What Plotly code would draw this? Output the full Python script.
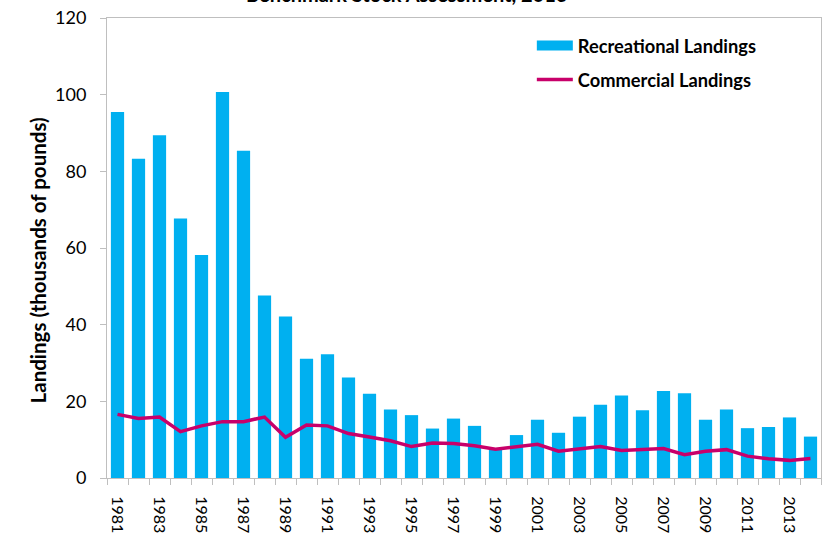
import plotly.graph_objects as go

years = list(range(1981, 2015))
recreational = [95.5, 83.3, 89.4, 67.7, 58.2, 100.7, 85.4, 47.6, 42.1, 31.1,
                32.3, 26.2, 22.0, 17.9, 16.4, 12.9, 15.5, 13.6, 7.5, 11.2,
                15.2, 11.8, 16.0, 19.1, 21.5, 17.7, 22.7, 22.1, 15.2, 17.9,
                13.0, 13.3, 15.8, 10.8]
commercial = [16.6, 15.5, 15.9, 12.1, 13.6, 14.7, 14.7, 15.9, 10.6, 13.8,
              13.6, 11.6, 10.7, 9.7, 8.2, 9.1, 9.0, 8.4, 7.5, 8.2,
              8.8, 7.0, 7.5, 8.2, 7.2, 7.4, 7.7, 6.1, 7.0, 7.4,
              5.7, 5.0, 4.6, 5.1]
tick_years = [y for y in years if y % 2 == 1]

BLUE = '#00B0F0'
MAGENTA = '#C8006A'
GRID = '#BFBFBF'
FONT = 'Lato, sans-serif'

fig = go.Figure()

# bars (legend drawn by a dummy thick line so the key is a wide rectangle)
fig.add_trace(go.Bar(
    x=years, y=recreational,
    marker=dict(color=BLUE, line=dict(width=0)),
    showlegend=False,
    name='Recreational Landings'
))
fig.add_trace(go.Scatter(
    x=[None], y=[None], mode='lines',
    line=dict(color=BLUE, width=13),
    name='<b>Recreational Landings</b>',
    legendgroup='rec'
))
fig.add_trace(go.Scatter(
    x=years, y=commercial, mode='lines',
    line=dict(color=MAGENTA, width=3.5),
    name='<b>Commercial Landings</b>',
    legendgroup='com'
))

fig.update_layout(
    width=828, height=539,
    margin=dict(l=107, r=6, t=15, b=58),
    plot_bgcolor='white', paper_bgcolor='white',
    bargap=0.37,
    font=dict(family=FONT, size=17, color='black'),
    legend=dict(
        x=0.595, y=0.98, xanchor='left', yanchor='top',
        font=dict(size=18.3), tracegroupgap=7,
        itemwidth=36, bgcolor='rgba(0,0,0,0)'
    ),
    xaxis=dict(
        range=[1980.5, 2014.5],
        tickmode='array', tickvals=tick_years,
        ticktext=[str(y) for y in tick_years],
        tickangle=90, ticks='outside', ticklen=0,
        ticklabelstandoff=14,
        showline=True, linecolor=GRID, linewidth=1, mirror=True,
        showgrid=False, zeroline=False,
        minor=dict(ticks='outside', ticklen=6, tickcolor=GRID,
                   tick0=1980.5, dtick=1, showgrid=False),
        tickfont=dict(size=16)
    ),
    yaxis=dict(
        range=[0, 120], dtick=20,
        ticks='outside', ticklen=6, tickcolor=GRID,
        ticklabelstandoff=10,
        showline=True, linecolor=GRID, linewidth=1, mirror=True,
        showgrid=False, zeroline=False,
        tickfont=dict(size=18)
    ),
    annotations=[
        dict(text='<b>Landings (thousands of pounds)</b>',
             xref='paper', yref='paper', x=-0.117, y=0.474,
             textangle=-90, showarrow=False, font=dict(size=20.5)),
        dict(text='<b>Benchmark Stock Assessment, 2016</b>',
             xref='paper', yref='paper', x=0.42, y=1,
             yanchor='bottom', yshift=10, showarrow=False,
             font=dict(size=20))
    ]
)

fig.write_html('out.html', config={'displayModeBar': False},
               post_script="document.body.style.margin='0';")
